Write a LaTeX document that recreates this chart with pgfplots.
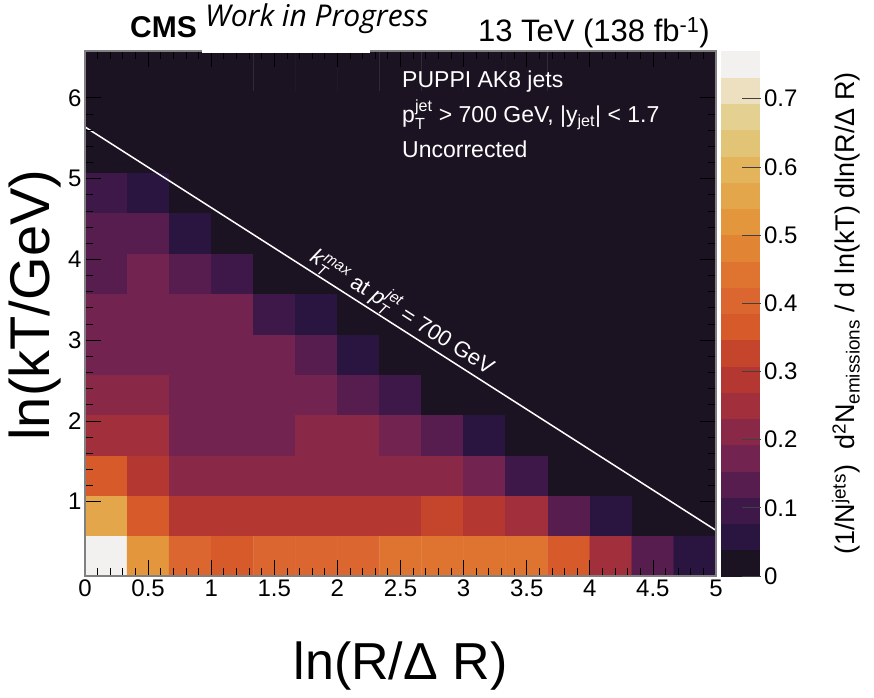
\documentclass[border=0pt]{standalone}
\usepackage{fontspec}
\setmainfont{Liberation Sans}
\newfontfamily\wipfont{Open Sans}
\usepackage{amsmath}
\usepackage{pgfplots}
\usepackage{pgfplotstable}
\pgfplotsset{compat=1.18}
\pgfkeys{/pgf/number format/assume math mode=true}

\pgfplotstableread{
x y z
0.1667 0.33 0.765
0.5000 0.33 0.52
0.8333 0.33 0.41
1.1667 0.33 0.37
1.5000 0.33 0.41
1.8333 0.33 0.41
2.1667 0.33 0.41
2.5000 0.33 0.44
2.8333 0.33 0.44
3.1667 0.33 0.44
3.5000 0.33 0.44
3.8333 0.33 0.37
4.1667 0.33 0.25
4.5000 0.33 0.14
4.8333 0.33 0.06
0.1667 0.83 0.56
0.5000 0.83 0.37
0.8333 0.83 0.29
1.1667 0.83 0.29
1.5000 0.83 0.29
1.8333 0.83 0.29
2.1667 0.83 0.29
2.5000 0.83 0.29
2.8333 0.83 0.33
3.1667 0.83 0.29
3.5000 0.83 0.25
3.8333 0.83 0.14
4.1667 0.83 0.06
4.5000 0.83 0.01
4.8333 0.83 0.01
0.1667 1.33 0.37
0.5000 1.33 0.29
0.8333 1.33 0.21
1.1667 1.33 0.21
1.5000 1.33 0.21
1.8333 1.33 0.21
2.1667 1.33 0.21
2.5000 1.33 0.21
2.8333 1.33 0.21
3.1667 1.33 0.17
3.5000 1.33 0.10
3.8333 1.33 0.01
4.1667 1.33 0.01
4.5000 1.33 0.01
4.8333 1.33 0.01
0.1667 1.83 0.25
0.5000 1.83 0.25
0.8333 1.83 0.17
1.1667 1.83 0.17
1.5000 1.83 0.17
1.8333 1.83 0.21
2.1667 1.83 0.21
2.5000 1.83 0.17
2.8333 1.83 0.14
3.1667 1.83 0.06
3.5000 1.83 0.01
3.8333 1.83 0.01
4.1667 1.83 0.01
4.5000 1.83 0.01
4.8333 1.83 0.01
0.1667 2.33 0.21
0.5000 2.33 0.21
0.8333 2.33 0.17
1.1667 2.33 0.17
1.5000 2.33 0.17
1.8333 2.33 0.17
2.1667 2.33 0.14
2.5000 2.33 0.10
2.8333 2.33 0.01
3.1667 2.33 0.01
3.5000 2.33 0.01
3.8333 2.33 0.01
4.1667 2.33 0.01
4.5000 2.33 0.01
4.8333 2.33 0.01
0.1667 2.83 0.17
0.5000 2.83 0.17
0.8333 2.83 0.17
1.1667 2.83 0.17
1.5000 2.83 0.17
1.8333 2.83 0.14
2.1667 2.83 0.06
2.5000 2.83 0.01
2.8333 2.83 0.01
3.1667 2.83 0.01
3.5000 2.83 0.01
3.8333 2.83 0.01
4.1667 2.83 0.01
4.5000 2.83 0.01
4.8333 2.83 0.01
0.1667 3.33 0.17
0.5000 3.33 0.17
0.8333 3.33 0.17
1.1667 3.33 0.17
1.5000 3.33 0.10
1.8333 3.33 0.06
2.1667 3.33 0.01
2.5000 3.33 0.01
2.8333 3.33 0.01
3.1667 3.33 0.01
3.5000 3.33 0.01
3.8333 3.33 0.01
4.1667 3.33 0.01
4.5000 3.33 0.01
4.8333 3.33 0.01
0.1667 3.83 0.14
0.5000 3.83 0.17
0.8333 3.83 0.14
1.1667 3.83 0.10
1.5000 3.83 0.01
1.8333 3.83 0.01
2.1667 3.83 0.01
2.5000 3.83 0.01
2.8333 3.83 0.01
3.1667 3.83 0.01
3.5000 3.83 0.01
3.8333 3.83 0.01
4.1667 3.83 0.01
4.5000 3.83 0.01
4.8333 3.83 0.01
0.1667 4.33 0.14
0.5000 4.33 0.14
0.8333 4.33 0.06
1.1667 4.33 0.01
1.5000 4.33 0.01
1.8333 4.33 0.01
2.1667 4.33 0.01
2.5000 4.33 0.01
2.8333 4.33 0.01
3.1667 4.33 0.01
3.5000 4.33 0.01
3.8333 4.33 0.01
4.1667 4.33 0.01
4.5000 4.33 0.01
4.8333 4.33 0.01
0.1667 4.83 0.10
0.5000 4.83 0.06
0.8333 4.83 0.01
1.1667 4.83 0.01
1.5000 4.83 0.01
1.8333 4.83 0.01
2.1667 4.83 0.01
2.5000 4.83 0.01
2.8333 4.83 0.01
3.1667 4.83 0.01
3.5000 4.83 0.01
3.8333 4.83 0.01
4.1667 4.83 0.01
4.5000 4.83 0.01
4.8333 4.83 0.01
0.1667 5.33 0.01
0.5000 5.33 0.01
0.8333 5.33 0.01
1.1667 5.33 0.01
1.5000 5.33 0.01
1.8333 5.33 0.01
2.1667 5.33 0.01
2.5000 5.33 0.01
2.8333 5.33 0.01
3.1667 5.33 0.01
3.5000 5.33 0.01
3.8333 5.33 0.01
4.1667 5.33 0.01
4.5000 5.33 0.01
4.8333 5.33 0.01
0.1667 5.83 0.01
0.5000 5.83 0.01
0.8333 5.83 0.01
1.1667 5.83 0.01
1.5000 5.83 0.01
1.8333 5.83 0.01
2.1667 5.83 0.01
2.5000 5.83 0.01
2.8333 5.83 0.01
3.1667 5.83 0.01
3.5000 5.83 0.01
3.8333 5.83 0.01
4.1667 5.83 0.01
4.5000 5.83 0.01
4.8333 5.83 0.01
0.1667 6.33 0.01
0.5000 6.33 0.01
0.8333 6.33 0.01
1.1667 6.33 0.01
1.5000 6.33 0.01
1.8333 6.33 0.01
2.1667 6.33 0.01
2.5000 6.33 0.01
2.8333 6.33 0.01
3.1667 6.33 0.01
3.5000 6.33 0.01
3.8333 6.33 0.01
4.1667 6.33 0.01
4.5000 6.33 0.01
4.8333 6.33 0.01
}\lund

\begin{document}
\begin{tikzpicture}
\begin{axis}[
  name=main,
  scale only axis, width=631pt, height=525pt,
  xmin=0, xmax=5, ymin=0.08, ymax=6.58,
  axis on top,
  xtick={0,0.5,1,1.5,2,2.5,3,3.5,4,4.5,5},
  ytick={1,2,3,4,5,6},
  minor x tick num=4, minor y tick num=4,
  tick align=inside, tick pos=both,
  major tick length=16pt, minor tick length=8pt,
  every tick/.style={black, line width=0.8pt},
  axis line style={draw=black!50, line width=1.2pt},
  tick label style={font=\fontsize{24}{24}\selectfont},
  xlabel={ln(R/Δ R)},
  xlabel style={font=\fontsize{52}{52}\selectfont, at={(axis description cs:0.5,-0.198)}, anchor=base},
  ylabel={ln(kT/GeV)},
  ylabel style={font=\fontsize{56}{56}\selectfont, at={(axis description cs:-0.0555,0.516)}, anchor=base},
  colormap={cmsmap}{rgb255=(28,19,34) rgb255=(42,21,64) rgb255=(62,24,73) rgb255=(88,29,79) rgb255=(115,35,80) rgb255=(138,40,72) rgb255=(161,47,60) rgb255=(180,56,49) rgb255=(197,68,44) rgb255=(215,90,42) rgb255=(220,102,48) rgb255=(223,116,48) rgb255=(225,132,52) rgb255=(227,150,60) rgb255=(227,166,74) rgb255=(227,180,92) rgb255=(226,196,118) rgb255=(228,208,144) rgb255=(236,224,192) rgb255=(243,241,240)},
  colormap access=piecewise constant,
  point meta min=0, point meta max=0.77,
  colorbar,
  colorbar style={
    width=40pt,
    at={(parent axis.north east)}, anchor=north west, xshift=-4pt,
    ytick={0,0.1,0.2,0.3,0.4,0.5,0.6,0.7},
    ytick pos=right,
    tick align=inside,
    major tick length=19pt,
    every tick/.style={black!75, line width=0.8pt},
    axis line style={draw=none},
    yticklabel style={font=\fontsize{24}{24}\selectfont, /pgf/number format/fixed, /pgf/number format/precision=1},
    ylabel={(1/N$^{\text{jets}}$)\ \ d$^{\text{2}}$N$_{\text{emissions}}$ / d ln(kT) dln(R/Δ R)},
    ylabel style={font=\fontsize{27}{27}\selectfont, at={(axis description cs:3.35,0.5)}, anchor=base},
  },
]
\addplot[matrix plot*, mesh/cols=15, point meta=explicit] table[x=x, y=y, meta=z] {\lund};
\addplot[white, line width=1.5pt] coordinates {(0,5.64) (5,0.645)};
\node[anchor=south, rotate=-32.6, text=white, inner sep=1pt, font=\fontsize{22}{22}\selectfont]
  at (axis cs:2.45,3.19) {\textit{k}$^{\text{\itshape max}}_{\text{\itshape T}}$ at \textit{p}$^{\text{\itshape jet}}_{\text{\itshape T}}$ = 700 GeV};
\node[anchor=base west, text=white, inner sep=0pt, font=\fontsize{23}{23}\selectfont] at (axis description cs:0.5024,0.9314) {PUPPI AK8 jets};
\node[anchor=base west, text=white, inner sep=0pt, font=\fontsize{23}{23}\selectfont] at (axis description cs:0.5024,0.8629) {p$^{\text{jet}}_{\text{T}}$ > 700 GeV, |y$_{\text{jet}}$| < 1.7};
\node[anchor=base west, text=white, inner sep=0pt, font=\fontsize{23}{23}\selectfont] at (axis description cs:0.5024,0.798) {Uncorrected};
\end{axis}
\fill[white] (117pt,522.5pt) rectangle (285pt,532pt);
\node[anchor=base west, inner sep=0pt, font=\fontsize{30}{30}\selectfont\bfseries] at (45pt,538pt) {CMS};
\node[anchor=base west, inner sep=0pt, font=\fontsize{30}{30}\selectfont\wipfont\itshape] at (120pt,549pt) {Work in Progress};
\node[anchor=base east, inner sep=0pt, font=\fontsize{31}{31}\selectfont] at (625pt,534pt) {13 TeV (138 fb\textsuperscript{-1})};
\pgfresetboundingbox
\path[use as bounding box] (-85pt,-121pt) rectangle (789pt,576pt);
\end{tikzpicture}
\end{document}
